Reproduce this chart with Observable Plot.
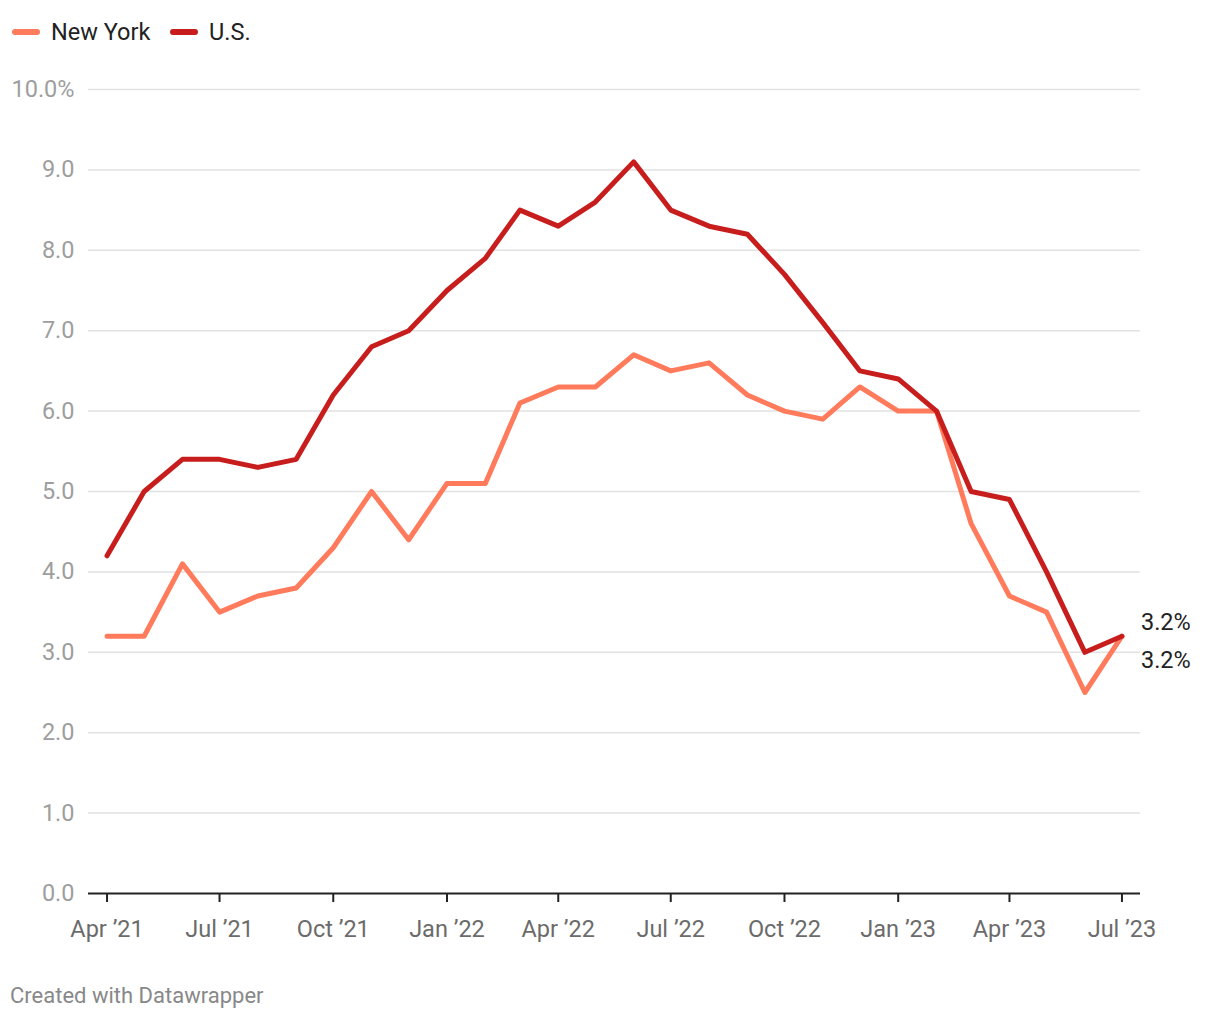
<!DOCTYPE html>
<html>
<head>
<meta charset="utf-8">
<script src="https://cdn.jsdelivr.net/npm/d3@7"></script>
<script src="https://cdn.jsdelivr.net/npm/@observablehq/plot@0.6"></script>
<style>
  body { margin: 0; background: #fff; font-family: Roboto, "Noto Sans", sans-serif; }
  #legend { height: 60px; position: relative; }
  .item { position: absolute; top: 17px; display: flex; align-items: center; font-size: 23.5px; color: #222; line-height: 30px; }
  .sw { width: 28px; height: 6px; border-radius: 3px; margin-right: 11px; }
  #footer { font-size: 22px; color: #888; padding-left: 10px; margin-top: 23px; }
  svg { display: block; }
</style>
</head>
<body>
<div id="legend"></div>
<div id="chart"></div>
<div id="footer">Created with Datawrapper</div>
<script>
const months = ["2021-04","2021-05","2021-06","2021-07","2021-08","2021-09","2021-10","2021-11","2021-12",
  "2022-01","2022-02","2022-03","2022-04","2022-05","2022-06","2022-07","2022-08","2022-09","2022-10","2022-11","2022-12",
  "2023-01","2023-02","2023-03","2023-04","2023-05","2023-06","2023-07"];
const usValues = [4.2,5.0,5.4,5.4,5.3,5.4,6.2,6.8,7.0,7.5,7.9,8.5,8.3,8.6,9.1,8.5,8.3,8.2,7.7,7.1,6.5,6.4,6.0,5.0,4.9,4.0,3.0,3.2];
const nyValues = [3.2,3.2,4.1,3.5,3.7,3.8,4.3,5.0,4.4,5.1,5.1,6.1,6.3,6.3,6.7,6.5,6.6,6.2,6.0,5.9,6.3,6.0,6.0,4.6,3.7,3.5,2.5,3.2];
const seriesNames = ["New York","U.S."];
const seriesColors = ["#ff7b5c","#c71e1d"];
const xTickMonths = ["2021-04","2021-07","2021-10","2022-01","2022-04","2022-07","2022-10","2023-01","2023-04","2023-07"];
const yTicks = [0,1,2,3,4,5,6,7,8,9,10];

const parse = s => new Date(s + "-01T00:00:00Z");
const monthNames = ["Jan","Feb","Mar","Apr","May","Jun","Jul","Aug","Sep","Oct","Nov","Dec"];
const fmtX = d => monthNames[d.getUTCMonth()] + " \u2019" + String(d.getUTCFullYear()).slice(2);

const data = [];
months.forEach((m, i) => {
  data.push({date: parse(m), value: nyValues[i], series: "New York"});
  data.push({date: parse(m), value: usValues[i], series: "U.S."});
});
const last = data.filter(d => +d.date === +parse(months[months.length - 1]));

// legend
const leg = document.getElementById("legend");
const lx = [12, 170];
seriesNames.forEach((n, i) => {
  const el = document.createElement("div");
  el.className = "item";
  el.style.left = lx[i] + "px";
  el.innerHTML = `<span class="sw" style="background:${seriesColors[i]}"></span><span>${n}</span>`;
  leg.appendChild(el);
});

const chart = Plot.plot({
  width: 1220,
  height: 900,
  marginTop: 29,
  marginBottom: 67,
  marginLeft: 88,
  marginRight: 80,
  style: {fontFamily: "Roboto, sans-serif", fontSize: "23.5px", background: "#fff"},
  x: {type: "utc", domain: [new Date(Date.UTC(2021,2,17)), new Date(Date.UTC(2023,6,16))]},
  y: {domain: [0, 10]},
  color: {domain: seriesNames, range: seriesColors},
  marks: [
    Plot.gridY(yTicks.filter(t => t > 0), {stroke: "#e2e2e2", strokeOpacity: 1, strokeWidth: 1.5}),
    Plot.axisY(yTicks, {tickSize: 0, tickPadding: 14, fill: "#9e9e9e", fontSize: 23.5,
      tickFormat: t => t === 10 ? "10.0%" : t.toFixed(1), label: null}),
    Plot.axisX(xTickMonths.map(parse), {tickSize: 9, tickPadding: 18, fill: "#6b6b6b", stroke: "#222",
      strokeWidth: 2, fontSize: 23.5, tickFormat: fmtX, label: null}),
    Plot.ruleY([0], {stroke: "#222", strokeWidth: 2}),
    Plot.line(data, {x: "date", y: "value", stroke: "series", z: "series", strokeWidth: 5,
      strokeLinejoin: "round", strokeLinecap: "round"}),
    Plot.text(last, {x: "date", y: "value", text: d => d.value.toFixed(1) + "%", textAnchor: "start",
      dx: 19, fill: "#222", fontSize: 23.5,
      filter: d => d.series === "U.S.", dy: -14}),
    Plot.text(last, {x: "date", y: "value", text: d => d.value.toFixed(1) + "%", textAnchor: "start",
      dx: 19, fill: "#222", fontSize: 23.5,
      filter: d => d.series === "New York", dy: 24})
  ]
});
document.getElementById("chart").appendChild(chart);
</script>
</body>
</html>
